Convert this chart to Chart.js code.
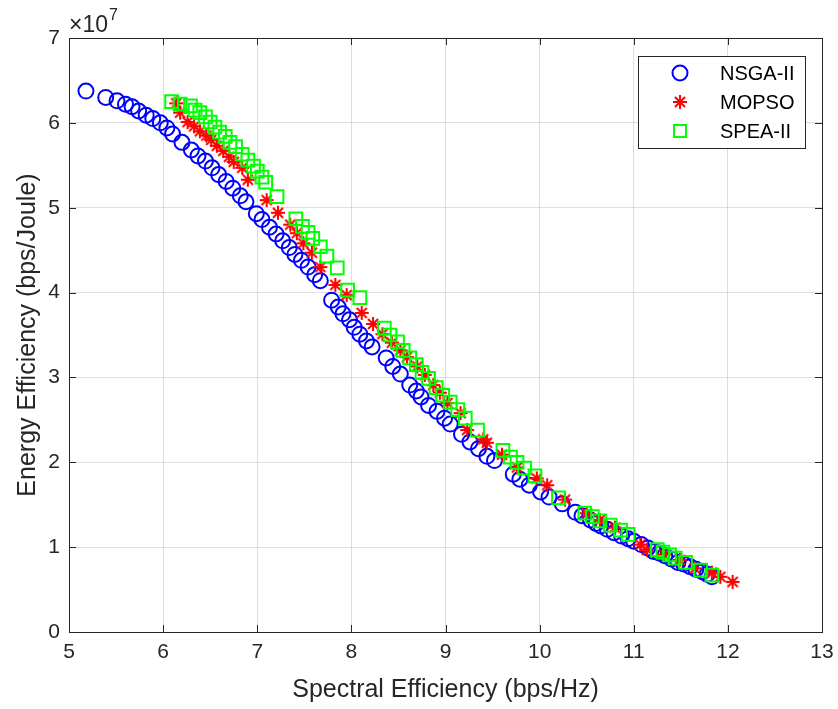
<!DOCTYPE html>
<html>
<head>
<meta charset="utf-8">
<script src="https://cdn.jsdelivr.net/npm/chart.js@4"></script>
<style>
html, body { margin: 0; padding: 0; background: #fff; }
</style>
</head>
<body>
<canvas id="Chart" width="838" height="709"></canvas>
<script>
// values, energy efficiency in units of 1e7 bps/Joule
const nsgaSE = [5.18, 5.39, 5.51, 5.60, 5.67, 5.74, 5.82, 5.89, 5.97, 6.04, 6.10, 6.20, 6.30, 6.37, 6.45, 6.52, 6.59, 6.67, 6.74, 6.82, 6.88, 6.99, 7.05, 7.13, 7.20, 7.27, 7.34, 7.40, 7.47, 7.54, 7.61, 7.67, 7.79, 7.86, 7.91, 7.98, 8.03, 8.09, 8.16, 8.22, 8.37, 8.44, 8.52, 8.62, 8.69, 8.74, 8.82, 8.91, 8.99, 9.05, 9.17, 9.26, 9.35, 9.44, 9.52, 9.72, 9.79, 9.89, 10.01, 10.10, 10.24, 10.38, 10.45, 10.54, 10.60, 10.65, 10.72, 10.79, 10.87, 10.94, 11.00, 11.08, 11.15, 11.21, 11.27, 11.33, 11.40, 11.47, 11.53, 11.60, 11.66, 11.73, 11.78, 11.83];
const nsgaEE = [6.375, 6.30, 6.26, 6.22, 6.19, 6.14, 6.09, 6.05, 6.00, 5.94, 5.87, 5.77, 5.68, 5.61, 5.55, 5.47, 5.39, 5.31, 5.23, 5.14, 5.07, 4.93, 4.86, 4.77, 4.69, 4.61, 4.53, 4.45, 4.38, 4.30, 4.21, 4.14, 3.91, 3.83, 3.75, 3.68, 3.59, 3.51, 3.43, 3.36, 3.23, 3.13, 3.04, 2.91, 2.84, 2.77, 2.67, 2.60, 2.52, 2.45, 2.33, 2.24, 2.16, 2.07, 2.02, 1.86, 1.80, 1.73, 1.65, 1.59, 1.51, 1.41, 1.37, 1.32, 1.28, 1.25, 1.21, 1.17, 1.13, 1.10, 1.07, 1.03, 0.99, 0.95, 0.93, 0.90, 0.86, 0.82, 0.80, 0.77, 0.74, 0.71, 0.68, 0.65];

const mopsoSE = [6.14, 6.18, 6.26, 6.33, 6.39, 6.46, 6.51, 6.57, 6.64, 6.70, 6.75, 6.84, 6.90, 7.10, 7.22, 7.35, 7.42, 7.49, 7.58, 7.67, 7.83, 7.95, 8.11, 8.23, 8.33, 8.43, 8.52, 8.59, 8.70, 8.78, 8.87, 8.94, 9.02, 9.16, 9.23, 9.40, 9.44, 9.60, 9.76, 9.97, 10.08, 10.27, 10.50, 10.64, 10.80, 11.07, 11.14, 11.32, 11.49, 11.65, 11.83, 11.92, 12.05];
const mopsoEE = [6.23, 6.12, 6.01, 5.96, 5.90, 5.85, 5.80, 5.73, 5.67, 5.60, 5.54, 5.47, 5.33, 5.09, 4.94, 4.80, 4.70, 4.58, 4.47, 4.30, 4.09, 3.97, 3.76, 3.63, 3.51, 3.41, 3.32, 3.24, 3.13, 3.03, 2.91, 2.82, 2.70, 2.58, 2.38, 2.27, 2.23, 2.09, 1.94, 1.81, 1.73, 1.56, 1.40, 1.32, 1.23, 1.03, 0.97, 0.91, 0.85, 0.75, 0.70, 0.65, 0.59];

const speaSE = [6.09, 6.18, 6.29, 6.34, 6.39, 6.45, 6.50, 6.55, 6.60, 6.66, 6.71, 6.77, 6.84, 6.90, 6.96, 7.00, 7.05, 7.09, 7.21, 7.41, 7.48, 7.54, 7.59, 7.67, 7.74, 7.85, 7.96, 8.09, 8.35, 8.41, 8.49, 8.55, 8.62, 8.69, 8.75, 8.82, 8.90, 8.97, 9.05, 9.13, 9.21, 9.34, 9.61, 9.69, 9.76, 9.84, 9.95, 10.20, 10.48, 10.56, 10.64, 10.75, 10.86, 10.94, 11.25, 11.31, 11.38, 11.44, 11.55, 11.71, 11.83];
const speaEE = [6.25, 6.22, 6.20, 6.15, 6.12, 6.07, 6.01, 5.95, 5.89, 5.84, 5.77, 5.72, 5.63, 5.56, 5.49, 5.43, 5.36, 5.30, 5.13, 4.87, 4.78, 4.71, 4.64, 4.54, 4.43, 4.29, 4.03, 3.94, 3.58, 3.50, 3.42, 3.32, 3.23, 3.15, 3.06, 2.99, 2.88, 2.79, 2.71, 2.62, 2.52, 2.38, 2.14, 2.06, 2.00, 1.93, 1.84, 1.58, 1.40, 1.36, 1.31, 1.26, 1.20, 1.15, 0.97, 0.94, 0.91, 0.87, 0.82, 0.73, 0.67];

const seTicks = [5, 6, 7, 8, 9, 10, 11, 12, 13];
const eeTicks = [0, 1, 2, 3, 4, 5, 6, 7];
const eeScale = 1e7;

const FONT = "'Liberation Sans', Arial, Helvetica, sans-serif";
const AXIS = '#262626';

// matlab-like asterisk marker
function makeAsterisk(size, color) {
    const c = document.createElement('canvas');
    c.width = size + 4;
    c.height = size + 4;
    const g = c.getContext('2d');
    const r = size / 2;
    g.translate(c.width / 2, c.height / 2);
    g.strokeStyle = color;
    g.lineWidth = 2;
    g.beginPath();
    g.moveTo(0, -r); g.lineTo(0, r);
    g.moveTo(-r, 0); g.lineTo(r, 0);
    const d = r * 0.72;
    g.moveTo(-d, -d); g.lineTo(d, d);
    g.moveTo(-d, d); g.lineTo(d, -d);
    g.stroke();
    return c;
}
const asterisk = makeAsterisk(14, '#ff0000');

function pts(xs, ys) {
    return xs.map((x, i) => ({ x: x, y: ys[i] * eeScale }));
}

const dataType = {
    datasets: [{
        label: 'NSGA-II',
        data: pts(nsgaSE, nsgaEE),
        pointStyle: 'circle',
        radius: 7.5,
        borderColor: '#0000ff',
        backgroundColor: 'rgba(0,0,0,0)',
        borderWidth: 2,
        order: 2,
    }, {
        label: 'MOPSO',
        data: pts(mopsoSE, mopsoEE),
        pointStyle: asterisk,
        radius: 7,
        borderColor: '#ff0000',
        backgroundColor: 'rgba(0,0,0,0)',
        order: 1,
    }, {
        label: 'SPEA-II',
        data: pts(speaSE, speaEE),
        pointStyle: 'rect',
        radius: 9,
        borderColor: '#00ff00',
        backgroundColor: 'rgba(0,0,0,0)',
        borderWidth: 2,
        order: 0,
    }],
};

// axes box with inward ticks, exponent label and legend
const matlabFrame = {
    id: 'matlabFrame',
    afterDatasetsDraw(chart) {
        const { ctx, chartArea: a, scales } = chart;
        const xs = scales.x, ys = scales.y;
        ctx.save();
        ctx.strokeStyle = AXIS;
        ctx.lineWidth = 1;
        ctx.beginPath();
        seTicks.forEach(v => {
            const px = Math.round(xs.getPixelForValue(v)) + 0.5;
            ctx.moveTo(px, a.bottom); ctx.lineTo(px, a.bottom - 7);
            ctx.moveTo(px, a.top); ctx.lineTo(px, a.top + 7);
        });
        eeTicks.forEach(v => {
            const py = Math.round(ys.getPixelForValue(v * eeScale)) + 0.5;
            ctx.moveTo(a.left, py); ctx.lineTo(a.left + 7, py);
            ctx.moveTo(a.right, py); ctx.lineTo(a.right - 7, py);
        });
        ctx.stroke();
        ctx.strokeRect(Math.round(a.left) + 0.5, Math.round(a.top) + 0.5,
            Math.round(a.right - a.left), Math.round(a.bottom - a.top));

        // x10^7
        ctx.fillStyle = AXIS;
        ctx.textBaseline = 'alphabetic';
        ctx.textAlign = 'left';
        ctx.font = '23px ' + FONT;
        ctx.fillText('\u00d710', a.left, a.top - 6);
        const w = ctx.measureText('\u00d710').width;
        ctx.font = '16px ' + FONT;
        ctx.fillText('7', a.left + w + 1, a.top - 18);

        // legend
        const bx = a.right - 184, by = a.top + 18, bw = 167, bh = 92;
        ctx.fillStyle = '#fff';
        ctx.fillRect(bx, by, bw, bh);
        ctx.strokeStyle = '#262626';
        ctx.lineWidth = 1;
        ctx.strokeRect(bx + 0.5, by + 0.5, bw, bh);
        const rows = [17, 46, 75];
        chart.data.datasets.forEach((ds, i) => {
            const cx = bx + 42, cy = by + rows[i];
            ctx.lineWidth = 2;
            ctx.strokeStyle = ds.borderColor;
            if (ds.pointStyle === 'circle') {
                ctx.beginPath();
                ctx.arc(cx, cy, 7.5, 0, Math.PI * 2);
                ctx.stroke();
            } else if (ds.pointStyle === 'rect') {
                ctx.strokeRect(cx - 6, cy - 6, 12, 12);
            } else {
                ctx.drawImage(ds.pointStyle, cx - ds.pointStyle.width / 2, cy - ds.pointStyle.height / 2);
            }
            ctx.fillStyle = '#000';
            ctx.font = '20px ' + FONT;
            ctx.textBaseline = 'middle';
            ctx.fillText(ds.label, bx + 82, cy + 1);
        });
        ctx.restore();
    },
};

const config = {
    type: 'scatter',
    data: dataType,
    options: {
        responsive: false,
        animation: false,
        layout: { padding: { top: 38, right: 16, left: 0, bottom: 0 } },
        plugins: {
            legend: { display: false },
            tooltip: { enabled: false },
        },
        scales: {
            x: {
                type: 'linear',
                min: 5,
                max: 13,
                afterFit: s => { s.height = 77; s.paddingLeft = 0; s.paddingRight = 0; },
                afterBuildTicks: s => { s.ticks = seTicks.map(v => ({ value: v })); },
                ticks: { color: AXIS, padding: 8, font: { family: FONT, size: 21 } },
                grid: { color: 'rgba(38,38,38,0.15)', drawTicks: false },
                border: { display: false },
                title: {
                    display: true,
                    text: 'Spectral Efficiency (bps/Hz)',
                    color: AXIS,
                    font: { family: FONT, size: 25 },
                    padding: { top: 0, bottom: 4 },
                },
            },
            y: {
                type: 'linear',
                min: 0,
                max: 7 * eeScale,
                afterFit: s => { s.width = 69; s.paddingTop = 0; s.paddingBottom = 0; },
                afterBuildTicks: s => { s.ticks = eeTicks.map(v => ({ value: v * eeScale })); },
                ticks: {
                    color: AXIS,
                    padding: 9,
                    font: { family: FONT, size: 21 },
                    callback: v => String(v / eeScale),
                },
                grid: { color: 'rgba(38,38,38,0.15)', drawTicks: false },
                border: { display: false },
                title: {
                    display: true,
                    text: 'Energy Efficiency (bps/Joule)',
                    color: AXIS,
                    font: { family: FONT, size: 25 },
                    padding: { top: 13, bottom: 0 },
                },
            },
        },
    },
    plugins: [matlabFrame],
};

const ctx = document.getElementById('Chart').getContext('2d');
const myChart = new Chart(ctx, config);
</script>
</body>
</html>
